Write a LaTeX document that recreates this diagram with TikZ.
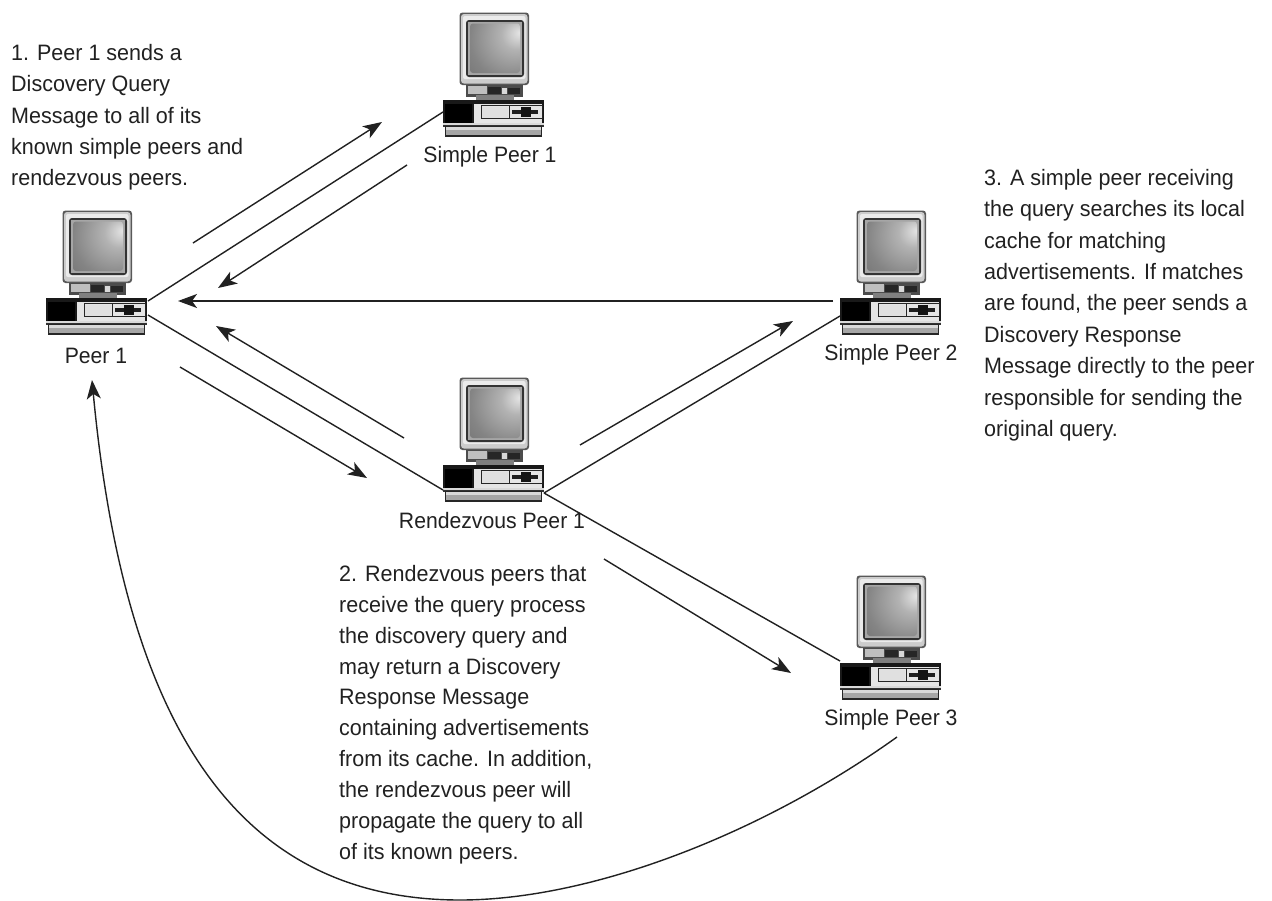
\documentclass[tikz,border=0pt]{standalone}
\usepackage{fontspec}
\setmainfont{Liberation Sans}
\usetikzlibrary{arrows.meta}
\definecolor{ink}{gray}{0.13}
\pgfdeclareradialshading{crtglow}{\pgfpoint{25bp}{16bp}}{
  color(0bp)=(black!10); color(15bp)=(black!30); color(40bp)=(black!48);
  color(70bp)=(black!60); color(100bp)=(black!72)}
\tikzset{
  x=1pt,y=-1pt,
  link/.style={draw=ink,line width=1.4pt},
  arrowline/.style={draw=ink,line width=1.4pt,-{Stealth[length=19pt,width=14pt,inset=5pt]}},
  lbl/.style={text=ink,inner sep=0pt,font=\fontsize{22.3}{31.4}\selectfont,align=left,anchor=north west,xscale=0.965},
  lbltight/.style={lbl,font=\fontsize{22.3}{30.9}\selectfont},
  peername/.style={text=ink,inner sep=0pt,font=\fontsize{22.3}{26}\selectfont,anchor=center,xscale=0.95},
  pc/.pic={
    % monitor casing
    \fill[black!65,rounded corners=3pt] (-0.5,-0.5) rectangle (69,72);
    \fill[black!20,rounded corners=3pt] (1,1) rectangle (67.5,70.5);
    \fill[black!8,rounded corners=2pt] (3,3) rectangle (65.5,66);
    \fill[black!80,rounded corners=3pt] (6,7) rectangle (64,64);
    \fill[black!35] (8,9) rectangle (62,62);
    \shade[shading=crtglow,rounded corners=3pt] (10,10.5) rectangle (60,60);
    % neck
    \fill[black!70] (6,72) rectangle (63,84);
    \fill[black!25] (8,73) rectangle (27,81);
    \fill[black!85] (28,74) rectangle (41,81);
    \fill[black!15] (42,75) rectangle (47,81);
    \fill[black!85] (48,75) rectangle (60,81);
    \fill[black!50] (16,82) rectangle (54,88);
    % base
    \fill[black!90] (-17,87) rectangle (84,112);
    \fill[black!100] (-15,91) rectangle (12,110);
    \fill[black!10] (14,91) rectangle (82,111);
    \fill[black!10] (15,91) rectangle (21,110);
    \draw[black!85,line width=1pt] (21,92.5) rectangle (82,105);
    \fill[black!12] (22,93.5) rectangle (48,104.5);
    \draw[black!85,line width=1pt] (49,92.5) -- (49,105);
    \fill[black!88] (52,97) rectangle (78,101);
    \fill[black!92] (61,94) rectangle (71,104);
    % foot
    \fill[black!15] (-17,110) rectangle (84,114);
    \fill[black!80] (-17,112) rectangle (84,114);
    \fill[black!85] (-15,113) rectangle (82,123.5);
    \fill[black!35] (-14,114) rectangle (81,122);
    \fill[black!15] (-14,114) rectangle (81,117);
  }
}
\begin{document}
\begin{tikzpicture}
\useasboundingbox (0,0) rectangle (1272,900);
\fill[white] (0,0) rectangle (1272,900);

% computers
\pic (a) at (63,211) {pc};
\pic (b) at (460,13) {pc};
\pic (c) at (857,211) {pc};
\pic (d) at (460,378) {pc};
\pic (e) at (857,576) {pc};

% names
\node[peername] (n1) at (96,356) {Peer 1};
\node[peername] (n2) at (490,157) {Simple Peer 1};
\node[peername] (n3) at (891,355) {Simple Peer 2};
\node[peername] (n4) at (492,521) {Rendezvous Peer 1};
\node[peername] (n5) at (891,720) {Simple Peer 3};

% anchor points on the machines
\coordinate (p1up) at (148,301);
\coordinate (p1dn) at (148,315);
\coordinate (p1in) at (178,301);
\coordinate (p1bt) at (92,380);
\coordinate (s1) at (443,112);
\coordinate (s2a) at (840,316);
\coordinate (s2b) at (833,301);
\coordinate (rl) at (443,490);
\coordinate (rr) at (544,493);
\coordinate (s3a) at (840,661);
\coordinate (s3b) at (897,737);
\coordinate (low) at (460,900);

% links
\draw[link] (p1up) -- (s1);
\draw[link] (p1dn) -- (rl);
\draw[link] (rr) -- (s2a);
\draw[link] (rr) -- (s3a);

% direction arrows
\coordinate (a1s) at (193,243); \coordinate (a1e) at (382,122);
\coordinate (a2s) at (407,165); \coordinate (a2e) at (218,288);
\coordinate (a3s) at (404,438); \coordinate (a3e) at (216,326);
\coordinate (a4s) at (180,367); \coordinate (a4e) at (367,478);
\coordinate (a5s) at (580,445); \coordinate (a5e) at (793,321);
\coordinate (a6s) at (604,559); \coordinate (a6e) at (791,673);
\draw[arrowline] (a1s) -- (a1e);
\draw[arrowline] (a2s) -- (a2e);
\draw[arrowline] (a3s) -- (a3e);
\draw[arrowline] (a4s) -- (a4e);
\draw[arrowline] (a5s) -- (a5e);
\draw[arrowline] (a6s) -- (a6e);
\draw[arrowline] (s2b) -- (p1in);
\draw[arrowline] (s3b) .. controls (760,835) and (590,900) .. (low)
   .. controls (240,900) and (125,730) .. (p1bt);

% captions
\node[lbl] (t1) at (11,44) {1. Peer 1 sends a\\Discovery Query\\Message to all of its\\known simple peers and\\rendezvous peers.};
\node[lbltight] (t2) at (339,565) {2. Rendezvous peers that\\receive the query process\\the discovery query and\\may return a Discovery\\Response Message\\containing advertisements\\from its cache. In addition,\\the rendezvous peer will\\propagate the query to all\\of its known peers.};
\node[lbl] (t3) at (984,169) {3. A simple peer receiving\\the query searches its local\\cache for matching\\advertisements. If matches\\are found, the peer sends a\\Discovery Response\\Message directly to the peer\\responsible for sending the\\original query.};
\end{tikzpicture}
\end{document}
